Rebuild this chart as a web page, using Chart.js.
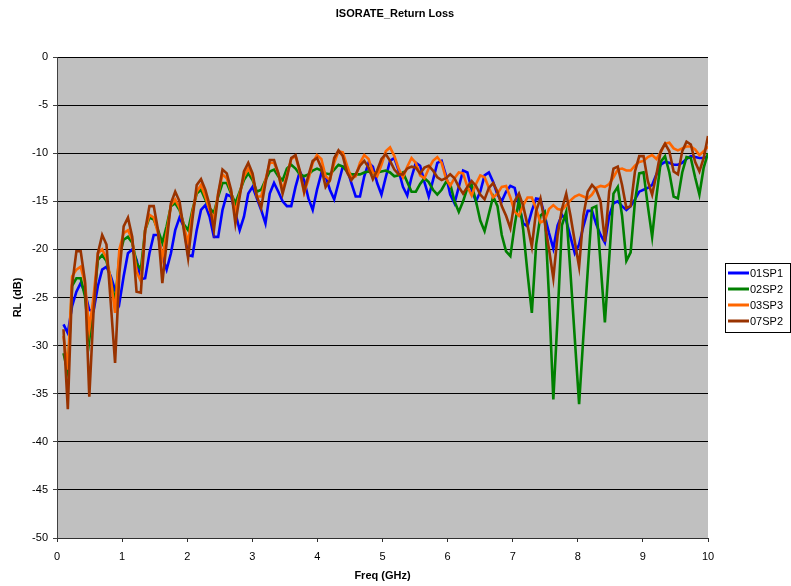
<!DOCTYPE html>
<html>
<head>
<meta charset="utf-8">
<script src="https://cdn.jsdelivr.net/npm/chart.js@4/dist/chart.umd.min.js"></script>
<style>
  html, body { margin: 0; padding: 0; background: #fff; }
  #wrap { width: 791px; height: 586px; }
</style>
</head>
<body>
<div id="wrap"><canvas id="chart" width="791" height="586"></canvas></div>
<script>
const TITLE = 'ISORATE_Return Loss';
const X_TITLE = 'Freq (GHz)';
const Y_TITLE = 'RL (dB)';

// sweep points (GHz)
const FREQ = [
  0.100, 0.166, 0.232, 0.298, 0.364, 0.430, 0.496, 0.562, 0.628, 0.694,
  0.760, 0.826, 0.892, 0.958, 1.024, 1.090, 1.156, 1.222, 1.288, 1.354,
  1.420, 1.486, 1.552, 1.618, 1.684, 1.750, 1.816, 1.882, 1.948, 2.014,
  2.080, 2.146, 2.212, 2.278, 2.344, 2.410, 2.476, 2.542, 2.608, 2.674,
  2.740, 2.806, 2.872, 2.938, 3.004, 3.070, 3.136, 3.202, 3.268, 3.334,
  3.400, 3.466, 3.532, 3.598, 3.664, 3.730, 3.796, 3.862, 3.928, 3.994,
  4.060, 4.126, 4.192, 4.258, 4.324, 4.390, 4.456, 4.522, 4.588, 4.654,
  4.720, 4.786, 4.852, 4.918, 4.984, 5.050, 5.116, 5.182, 5.248, 5.314,
  5.380, 5.446, 5.512, 5.578, 5.644, 5.710, 5.776, 5.842, 5.908, 5.974,
  6.040, 6.106, 6.172, 6.238, 6.304, 6.370, 6.436, 6.502, 6.568, 6.634,
  6.700, 6.766, 6.832, 6.898, 6.964, 7.030, 7.096, 7.162, 7.228, 7.294,
  7.360, 7.426, 7.492, 7.558, 7.624, 7.690, 7.756, 7.822, 7.888, 7.954,
  8.020, 8.086, 8.152, 8.218, 8.284, 8.350, 8.416, 8.482, 8.548, 8.614,
  8.680, 8.746, 8.812, 8.878, 8.944, 9.010, 9.076, 9.142, 9.208, 9.274,
  9.340, 9.406, 9.472, 9.538, 9.604, 9.670, 9.736, 9.802, 9.868, 9.934,
  10.000
];

const SP01 = [
  -27.8, -28.7, -25.9, -24.4, -23.5, -24.5, -26.3, -26.4, -23.8, -22.1,
  -21.8, -22.8, -24.2, -25.6, -22.8, -20.4, -20.0, -21.1, -23.1, -23.0,
  -20.4, -18.5, -18.5, -20.7, -22.1, -20.4, -18.0, -16.7, -17.6, -20.6,
  -20.7, -18.0, -15.9, -15.4, -16.6, -18.7, -18.7, -15.9, -14.3, -14.5,
  -16.2, -18.0, -16.6, -14.2, -13.5, -14.7, -15.9, -17.3, -14.2, -13.1,
  -14.0, -15.0, -15.5, -15.5, -13.5, -11.9, -12.8, -14.7, -15.9, -13.8,
  -12.1, -12.4, -13.8, -14.8, -13.1, -11.4, -11.6, -13.1, -14.5, -14.5,
  -12.4, -11.0, -11.4, -13.1, -14.3, -12.5, -10.8, -10.5, -11.8, -13.5,
  -14.4, -12.5, -11.0, -11.3, -13.0, -14.5, -12.8, -11.0, -10.8, -12.3,
  -14.3, -15.2, -13.5, -11.8, -12.0, -13.8, -15.0, -14.0, -12.3, -12.0,
  -13.0, -14.3, -15.0, -14.0, -13.4, -13.6, -15.5, -17.3, -17.6, -16.0,
  -14.7, -14.8, -16.5, -18.3, -19.9, -17.5, -16.4, -17.0, -18.7, -20.4,
  -19.5, -17.6, -16.0, -16.0, -17.4, -18.5, -19.3, -16.5, -15.2, -15.0,
  -15.5, -15.9, -15.5, -14.8, -14.0, -13.8, -13.6, -13.3, -12.2, -11.2,
  -10.9, -11.0, -11.2, -11.2, -11.0, -10.6, -10.3, -10.4, -10.5, -10.5,
  -10.3
];

const SP02 = [
  -30.8, -32.8, -23.8, -23.0, -23.0, -24.9, -29.4, -25.6, -21.1, -20.6,
  -21.2, -23.1, -25.6, -20.7, -19.0, -18.7, -19.3, -21.4, -22.1, -18.0,
  -16.7, -16.9, -18.0, -19.3, -17.6, -15.5, -15.2, -15.9, -17.4, -18.0,
  -15.9, -14.2, -13.8, -14.8, -15.7, -16.2, -14.5, -13.1, -13.1, -14.2,
  -15.2, -14.0, -12.8, -12.1, -12.8, -14.0, -13.8, -12.8, -11.9, -11.7,
  -12.4, -12.8, -11.6, -11.2, -11.6, -12.2, -12.4, -12.2, -11.8, -11.6,
  -11.8, -12.1, -12.2, -11.7, -11.2, -11.4, -11.9, -12.2, -12.2, -12.2,
  -12.0, -11.9, -12.1, -12.0, -11.9, -11.8, -12.0, -12.4, -12.3, -12.0,
  -13.0, -14.0, -14.0, -13.2, -12.6, -13.0, -13.8, -14.3, -13.8, -13.0,
  -13.2, -15.0, -16.1, -15.0, -13.6, -13.3, -15.0, -17.0, -18.1, -16.3,
  -14.5, -15.5, -18.5, -20.2, -20.7, -17.5, -14.8, -18.0, -22.5, -26.6,
  -19.5, -16.5, -16.1, -25.0, -35.6, -27.0, -17.5, -16.1, -22.5, -29.3,
  -36.1, -29.0, -22.3, -15.7, -15.5, -21.5, -27.6, -21.0, -14.2, -13.5,
  -16.5, -21.2, -20.3, -15.0, -12.1, -12.0, -15.5, -18.7, -14.5, -10.9,
  -10.3, -12.0, -14.5, -14.7, -12.0, -10.4, -10.5, -12.5, -14.3, -11.5,
  -10.0
];

const SP03 = [
  -29.0, -32.5, -22.8, -22.1, -21.8, -23.5, -28.3, -24.9, -20.4, -20.0,
  -20.9, -23.1, -26.6, -20.0, -18.3, -18.0, -19.0, -22.3, -23.3, -18.0,
  -16.4, -16.7, -18.3, -20.9, -18.3, -15.4, -14.8, -15.7, -17.6, -19.3,
  -16.2, -14.0, -13.3, -14.5, -15.9, -16.9, -14.2, -12.2, -12.6, -14.0,
  -16.2, -14.2, -12.4, -11.6, -12.4, -14.5, -14.5, -12.8, -11.0, -11.0,
  -12.1, -13.8, -12.3, -10.6, -10.3, -12.0, -14.1, -12.7, -11.0, -10.2,
  -10.6, -12.4, -12.8, -11.0, -9.8, -9.9, -11.3, -12.6, -12.4, -11.0,
  -10.2, -10.6, -12.0, -12.4, -11.2, -9.8, -9.4, -10.3, -11.6, -12.5,
  -11.4, -10.5, -11.0, -12.3, -12.6, -11.6, -10.8, -10.4, -11.0, -12.6,
  -13.4, -12.6, -12.0, -12.1, -13.5, -14.4, -13.2, -12.3, -12.5, -13.6,
  -14.6, -14.2, -13.5, -13.4, -14.6, -16.1, -16.5, -15.4, -14.6, -14.6,
  -15.8, -17.2, -17.0, -15.8, -15.4, -15.8, -15.9, -15.4, -14.9, -14.5,
  -14.3, -14.5, -14.7, -14.3, -13.6, -13.4, -13.5, -13.2, -12.5, -11.7,
  -11.6, -11.8, -11.8, -11.3, -10.9, -10.8, -10.4, -10.2, -10.6, -9.9,
  -9.0, -8.9, -9.5, -9.7, -9.5, -9.3, -9.3, -9.6, -10.2, -9.8,
  -9.3
];

const SP07 = [
  -28.3, -36.6, -23.7, -20.2, -20.2, -23.3, -35.3, -26.4, -20.4, -18.5,
  -19.5, -25.6, -31.8, -22.5, -17.6, -16.7, -18.7, -24.4, -24.5, -18.0,
  -15.5, -15.5, -18.0, -23.5, -19.3, -15.2, -14.0, -15.0, -18.0, -20.9,
  -16.9, -13.3, -12.7, -13.8, -15.4, -18.0, -14.2, -11.7, -12.1, -13.8,
  -17.3, -14.5, -11.9, -11.0, -12.1, -14.5, -15.7, -13.1, -10.7, -10.7,
  -12.1, -14.2, -12.5, -10.5, -10.2, -11.8, -14.0, -12.3, -10.8, -10.5,
  -11.5, -13.5, -12.8, -10.5, -9.7, -10.3, -12.0, -12.8, -12.2, -11.3,
  -10.8, -11.5, -12.7, -11.8, -10.6, -10.1, -10.8, -11.7, -12.2, -12.2,
  -11.6, -11.4, -11.5, -12.1, -11.5, -11.3, -11.8, -12.5, -12.8, -12.6,
  -12.2, -12.6, -13.5, -14.2, -13.5, -12.9, -13.4, -14.3, -14.8, -13.6,
  -13.1, -14.0, -15.5, -16.5, -17.8, -15.0, -14.2, -15.5, -17.5, -19.7,
  -16.0, -14.7, -17.2, -20.0, -23.0, -18.5, -15.8, -14.2, -16.5, -19.2,
  -21.8, -16.5, -14.0, -13.3, -13.8, -15.0, -19.2, -14.0, -11.6, -11.4,
  -13.3, -15.7, -15.5, -11.9, -10.3, -10.3, -12.9, -14.3, -12.2, -9.8,
  -9.0, -9.8, -11.9, -12.2, -9.8, -8.8, -9.1, -10.9, -11.9, -10.5,
  -8.2
];

const SERIES = ['01SP1', '02SP2', '03SP3', '07SP2'];
const COLORS = ['#0000ff', '#008000', '#ff6600', '#993300'];
const VALUES = [SP01, SP02, SP03, SP07];

const X_TICKS = [0, 1, 2, 3, 4, 5, 6, 7, 8, 9, 10];
const Y_TICKS = [0, -5, -10, -15, -20, -25, -30, -35, -40, -45, -50];

const FONT = 'Liberation Sans, Arial, Helvetica, sans-serif';

const datasets = SERIES.map((name, k) => ({
  label: name,
  data: FREQ.map((f, i) => ({ x: f, y: VALUES[k][i] })),
  borderColor: COLORS[k],
  backgroundColor: COLORS[k],
  borderWidth: 2.6,
  pointRadius: 0,
  tension: 0,
  order: SERIES.length - k
}));

// grey plot area + white page
const plotBg = {
  id: 'plotBg',
  beforeDraw(chart) {
    const { ctx, chartArea: a } = chart;
    ctx.save();
    ctx.fillStyle = '#ffffff';
    ctx.fillRect(0, 0, chart.width, chart.height);
    ctx.fillStyle = '#c0c0c0';
    ctx.fillRect(a.left, a.top, a.right - a.left, a.bottom - a.top);
    ctx.restore();
  }
};

// title and boxed legend, placed like the original sheet
const decor = {
  id: 'decor',
  afterDraw(chart) {
    const ctx = chart.ctx;
    ctx.save();
    ctx.fillStyle = '#000';
    ctx.font = 'bold 11px ' + FONT;
    ctx.textAlign = 'center';
    ctx.textBaseline = 'middle';
    ctx.fillText(TITLE, 395, 14);

    const bx = 725, by = 263, bw = 65, bh = 69;
    ctx.fillStyle = '#fff';
    ctx.fillRect(bx, by, bw, bh);
    ctx.strokeStyle = '#000';
    ctx.lineWidth = 1;
    ctx.strokeRect(bx + 0.5, by + 0.5, bw, bh);

    ctx.font = '11px ' + FONT;
    ctx.textAlign = 'left';
    chart.data.datasets.forEach((ds, k) => {
      const y = by + 10 + k * 16;
      ctx.strokeStyle = ds.borderColor;
      ctx.lineWidth = 3;
      ctx.beginPath();
      ctx.moveTo(bx + 3, y);
      ctx.lineTo(bx + 24, y);
      ctx.stroke();
      ctx.fillStyle = '#000';
      ctx.fillText(ds.label, bx + 25, y + 1);
    });
    ctx.restore();
  }
};

new Chart(document.getElementById('chart'), {
  type: 'line',
  data: { datasets },
  plugins: [plotBg, decor],
  options: {
    responsive: false,
    animation: false,
    devicePixelRatio: 1,
    layout: { padding: { top: 57, right: 83, left: 0, bottom: 0 } },
    plugins: {
      legend: { display: false },
      title: { display: false },
      tooltip: { enabled: false }
    },
    scales: {
      x: {
        type: 'linear',
        min: 0,
        max: 10,
        afterFit(scale) { scale.height = 48; },
        afterBuildTicks(scale) { scale.ticks = X_TICKS.map(v => ({ value: v })); },
        ticks: { color: '#000', font: { family: FONT, size: 11 }, padding: 8 },
        grid: { drawOnChartArea: false, drawTicks: true, tickLength: 4, color: '#303030' },
        border: { color: '#303030', width: 1 },
        title: {
          display: true,
          text: X_TITLE,
          color: '#000',
          font: { family: FONT, size: 11, weight: 'bold' },
          padding: { top: 0, bottom: 3 }
        }
      },
      y: {
        min: -50,
        max: 0,
        afterFit(scale) { scale.width = 57; },
        afterBuildTicks(scale) { scale.ticks = Y_TICKS.map(v => ({ value: v })); },
        ticks: { color: '#000', font: { family: FONT, size: 11 }, padding: 5 },
        grid: { color: '#000', lineWidth: 1, drawTicks: true, tickLength: 4, tickColor: '#404040' },
        border: { color: '#404040', width: 1 },
        title: {
          display: true,
          text: Y_TITLE,
          color: '#000',
          font: { family: FONT, size: 11, weight: 'bold' },
          padding: { top: 11, bottom: 0 }
        }
      }
    }
  }
});
</script>
</body>
</html>
